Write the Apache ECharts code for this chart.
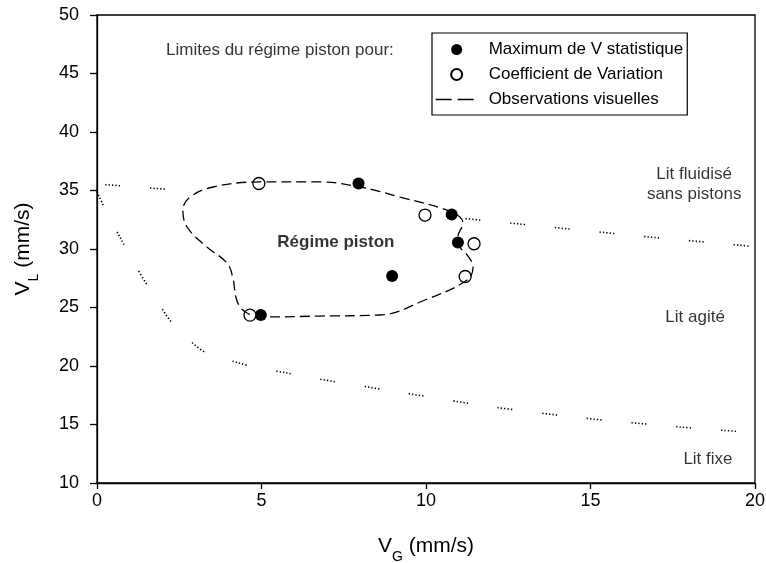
<!DOCTYPE html>
<html>
<head>
<meta charset="utf-8">
<script src="https://cdn.jsdelivr.net/npm/echarts@6/dist/echarts.min.js"></script>
<style>html,body{margin:0;padding:0;background:#fff}#c{width:766px;height:563px}</style>
</head>
<body>
<div id="c"></div>
<script>
// ---- data ----
const maxVX = [7.95, 10.78, 10.97, 8.97, 4.98];
const maxVY = [35.6, 32.95, 30.55, 27.7, 24.35];
const cvX = [4.92, 9.97, 11.46, 11.19, 4.65];
const cvY = [35.6, 32.9, 30.45, 27.65, 24.35];
const obsX = [4.80, 5.17, 6.78, 8.60, 9.97, 11.25, 11.43, 11.25, 11.03, 10.97, 11.12, 11.03, 10.64, 9.21, 7.99, 6.78, 4.95, 3.53, 2.83, 2.61, 2.74, 3.34, 3.95, 4.13, 4.22, 4.35, 4.56, 4.80];
const obsY = [24.27, 24.19, 24.27, 24.36, 25.64, 27.35, 28.46, 29.49, 30.17, 31.03, 32.22, 32.74, 33.33, 34.44, 35.30, 35.73, 35.73, 35.30, 34.44, 33.33, 31.88, 30.17, 28.80, 27.52, 25.90, 25.04, 24.53, 24.27];
const upperLeftX = [0.25, 2.6];
const upperLeftY = [35.5, 35.0];
const upperRightX = [11.2, 16.5, 20];
const upperRightY = [32.6, 31.1, 30.2];
const lowerX = [0, 0.4, 0.7, 1.1, 1.55, 1.82, 2.22, 2.89, 3.34, 4.26, 4.95, 5.78, 6.38, 9.36, 12.04, 14.77, 17.72, 20];
const lowerY = [34.9, 32.5, 31.0, 28.9, 26.8, 25.6, 23.9, 22.0, 21.1, 20.3, 19.8, 19.4, 19.06, 17.69, 16.5, 15.56, 14.79, 14.3];
const noteX = [5.56, 7.26, 18.15, 18.18, 18.57];
const noteY = [47.0, 30.6, 35.56, 24.2, 12.0];
const noteText = ['Limites du régime piston pour:', 'Régime piston', 'Lit fluidisé\nsans pistons', 'Lit agité', 'Lit fixe'];
const seriesNames = ['Maximum de V statistique', 'Coefficient de Variation', 'Observations visuelles'];
const xTicks = [0, 20, 5];
const yTicks = [10, 50, 5];

const zip = (a, b) => a.map((v, i) => [v, b[i]]);
const FONT = '"Liberation Sans", Arial, Helvetica, sans-serif';
const INK = '#000';
const dotted = [1.3, 2.1, 1.3, 2.1, 1.3, 2.1, 1.3, 2.1, 1.3, 30];

const chart = echarts.init(document.getElementById('c'), null, {renderer: 'canvas'});
chart.setOption({
  animation: false,
  textStyle: {fontFamily: FONT, color: INK},
  grid: {left: 97, right: 11, top: 15, bottom: 80, show: true, borderColor: INK, borderWidth: 1.3,
         containLabel: false, outerBoundsMode: 'none'},
  legend: {
    left: 432, top: 33, orient: 'vertical',
    data: [
      {name: seriesNames[0]},
      {name: seriesNames[1]},
      {name: seriesNames[2], lineStyle: {type: [16, 6], width: 1.3, color: INK},
       itemStyle: {color: 'rgba(0,0,0,0)', borderWidth: 0, opacity: 0}}
    ],
    itemWidth: 42, itemHeight: 11, itemGap: 8,
    padding: [8, 4, 7, 3],
    borderColor: INK, borderWidth: 1.2,
    textStyle: {fontFamily: FONT, fontSize: 17, color: INK, padding: [0, 0, 0, 6]}
  },
  xAxis: {
    type: 'value', min: xTicks[0], max: xTicks[1], interval: xTicks[2],
    name: '{v|V}{s|G}{v| (mm/s)}', nameLocation: 'middle', nameGap: 53,
    nameTextStyle: {rich: {
      v: {fontFamily: FONT, fontSize: 21, color: INK, lineHeight: 28, verticalAlign: 'top'},
      s: {fontFamily: FONT, fontSize: 14, color: INK, lineHeight: 10, verticalAlign: 'bottom'}
    }},
    axisLine: {lineStyle: {color: INK, width: 1.3}},
    axisTick: {length: 6, lineStyle: {color: INK, width: 1.3}},
    axisLabel: {fontSize: 18, color: INK, margin: 9, fontFamily: FONT},
    splitLine: {show: false}
  },
  yAxis: {
    type: 'value', min: yTicks[0], max: yTicks[1], interval: yTicks[2],
    name: '{v|V}{s|L}{v| (mm/s)}', nameLocation: 'middle', nameGap: 56, nameRotate: 90,
    nameTextStyle: {rich: {
      v: {fontFamily: FONT, fontSize: 21, color: INK, lineHeight: 28, verticalAlign: 'top'},
      s: {fontFamily: FONT, fontSize: 14, color: INK, lineHeight: 10, verticalAlign: 'bottom'}
    }},
    axisLine: {lineStyle: {color: INK, width: 1.3}},
    axisTick: {length: 7, lineStyle: {color: INK, width: 1.3}},
    axisLabel: {fontSize: 18, color: INK, margin: 18, fontFamily: FONT},
    splitLine: {show: false}
  },
  series: [
    {type: 'line', name: 'upperLeft', data: zip(upperLeftX, upperLeftY), symbol: 'none', silent: true,
     lineStyle: {color: INK, width: 1.6, type: dotted}},
    {type: 'line', name: 'upperRight', data: zip(upperRightX, upperRightY), symbol: 'none', silent: true,
     lineStyle: {color: INK, width: 1.6, type: dotted}},
    {type: 'line', name: 'lower', data: zip(lowerX, lowerY), symbol: 'none', silent: true, smooth: 0.3,
     lineStyle: {color: INK, width: 1.6, type: dotted}},
    {type: 'line', name: seriesNames[2], data: zip(obsX, obsY), symbol: 'none', smooth: 0.4, silent: true,
     lineStyle: {color: INK, width: 1.3, type: [10, 5]}, itemStyle: {color: INK}},
    {type: 'scatter', name: seriesNames[0], data: zip(maxVX, maxVY), symbol: 'circle', symbolSize: 12,
     itemStyle: {color: INK, opacity: 1}},
    {type: 'scatter', name: seriesNames[1], data: zip(cvX, cvY), symbol: 'circle', symbolSize: 12,
     itemStyle: {color: '#fff', borderColor: INK, borderWidth: 1.3, opacity: 1}},
    {type: 'scatter', name: 'notes', silent: true, symbolSize: 0,
     data: noteX.map((x, i) => ({value: [x, noteY[i]], name: noteText[i],
       label: i === 1 ? {fontWeight: 'bold'} : {}})),
     label: {show: true, position: 'inside', formatter: p => p.name, color: INK, fontSize: 17,
       fontFamily: FONT, lineHeight: 20, align: 'center', verticalAlign: 'middle'},
     labelLayout: {hideOverlap: false}}
  ]
});
</script>
</body>
</html>
